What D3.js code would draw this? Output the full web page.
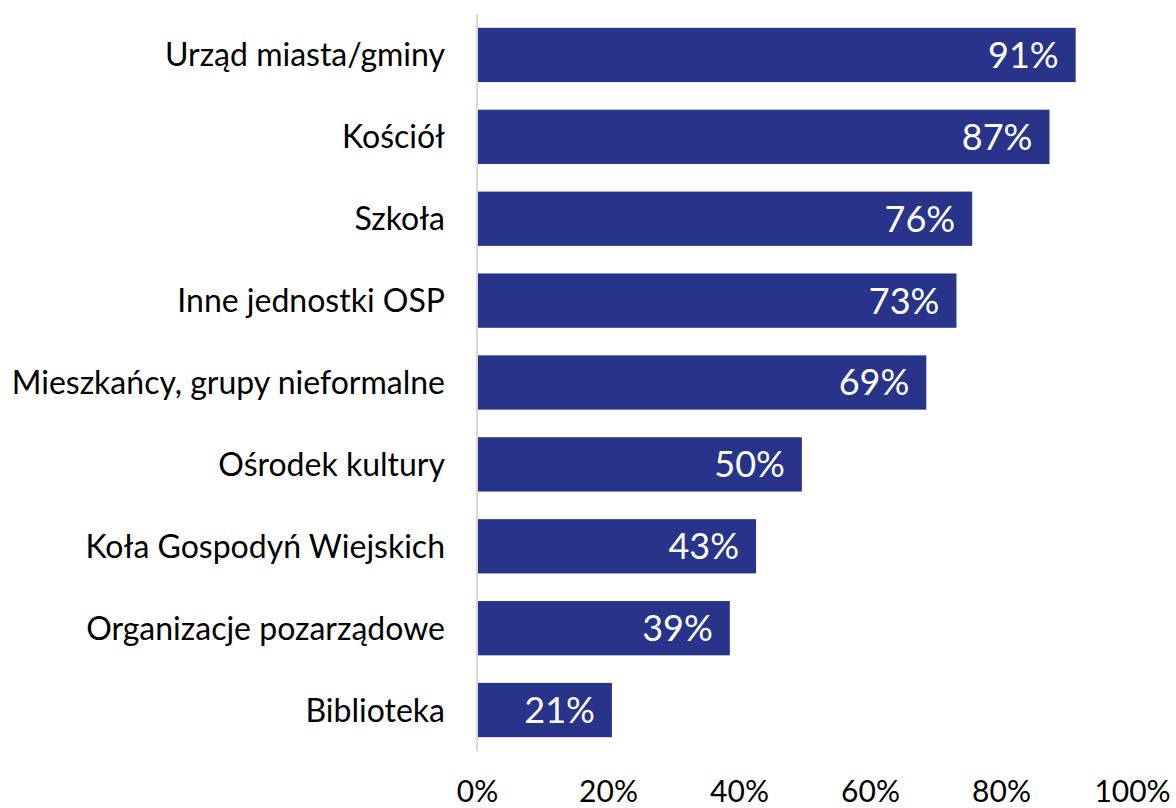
<!DOCTYPE html>
<html><head><meta charset="utf-8">
<script src="https://cdn.jsdelivr.net/npm/d3@7"></script>
<style>
html,body{margin:0;padding:0;background:#fff;}
svg{display:block;}
text{font-family:Lato,"Noto Sans",sans-serif;}
</style></head>
<body>
<svg id="chart" width="1176" height="808"></svg>
<script>
const categories = ["Urząd miasta/gminy","Kościół","Szkoła","Inne jednostki OSP","Mieszkańcy, grupy nieformalne","Ośrodek kultury","Koła Gospodyń Wiejskich","Organizacje pozarządowe","Biblioteka"];
const values = [0.914, 0.874, 0.756, 0.732, 0.686, 0.496, 0.426, 0.386, 0.206];
const tickValues = [0, 0.2, 0.4, 0.6, 0.8, 1.0];

const svg = d3.select("#chart");
const x = d3.scaleLinear().domain([0,1]).range([477,1132]);
const y = d3.scaleBand().domain(categories).range([14,751]).paddingInner(0.337).paddingOuter(0.1685);
const fmt = d3.format(".0%");

svg.selectAll("rect.bar").data(categories).join("rect")
  .attr("class","bar")
  .attr("x", x(0))
  .attr("y", d=>y(d))
  .attr("width", (d,i)=>x(values[i])-x(0))
  .attr("height", y.bandwidth())
  .attr("fill","#28348a");

// axis line
svg.append("line").attr("x1",x(0)).attr("x2",x(0)).attr("y1",14).attr("y2",751)
  .attr("stroke","#d9d9d9").attr("stroke-width",2);

// category labels
svg.selectAll("text.cat").data(categories).join("text")
  .attr("class","cat")
  .attr("x",445)
  .attr("y",d=>y(d)+y.bandwidth()/2)
  .attr("dy","0.36em")
  .attr("text-anchor","end")
  .attr("font-size",32)
  .attr("fill","#000")
  .text(d=>d);

// value labels
svg.selectAll("text.val").data(categories).join("text")
  .attr("class","val")
  .attr("x",(d,i)=>x(values[i])-17)
  .attr("y",d=>y(d)+y.bandwidth()/2)
  .attr("dy","0.36em")
  .attr("text-anchor","end")
  .attr("font-size",36)
  .attr("fill","#fff")
  .text((d,i)=>fmt(values[i]));

// x axis
const xAxis = d3.axisBottom(x).tickValues(tickValues).tickFormat(fmt).tickSize(0).tickPadding(0);
const g = svg.append("g").attr("transform","translate(0,778)").call(xAxis);
g.select(".domain").remove();
g.selectAll("text").attr("font-size",30).attr("fill","#000").attr("dy","0.8em").style("font-family","Lato,'Noto Sans',sans-serif");
</script>
</body></html>
